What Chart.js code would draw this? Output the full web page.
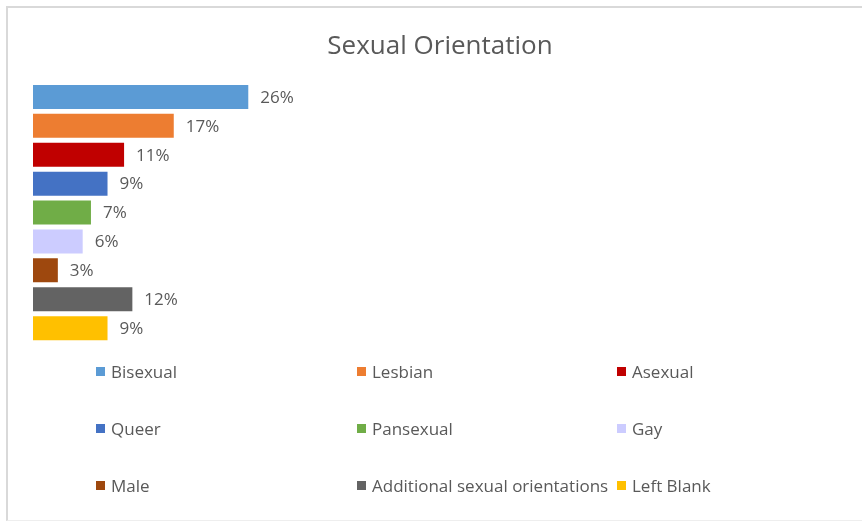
<!DOCTYPE html>
<html>
<head>
<meta charset="utf-8">
<script src="https://cdn.jsdelivr.net/npm/chart.js@4/dist/chart.umd.min.js"></script>
<style>
    html, body { margin: 0; padding: 0; background: #fff; }
    #wrap { position: relative; width: 862px; height: 523px; overflow: hidden; }
    #frame {
        position: absolute; left: 6px; top: 6px; width: 870px; height: 512px;
        border-left: 2px solid #d9d9d9; border-top: 2px solid #d9d9d9; border-bottom: 1px solid #eeeeee;
    }
    #chart { position: absolute; left: 0; top: 0; }
    #legend { position: absolute; left: 0; top: 0; width: 862px; height: 523px; pointer-events: none; }
    .item {
        position: absolute; display: flex; align-items: center;
        font-family: "Open Sans", sans-serif; font-size: 17px; color: #595959; white-space: nowrap;
    }
    .item span.box { width: 9px; height: 9px; margin-right: 6px; display: inline-block; }
</style>
</head>
<body>
<div id="wrap">
    <div id="frame"></div>
    <canvas id="chart" width="862" height="523"></canvas>
    <div id="legend"></div>
</div>
<script>
// Categorias e percentuais
const orientacoes = ['Bisexual', 'Lesbian', 'Asexual', 'Queer', 'Pansexual', 'Gay', 'Male', 'Additional sexual orientations', 'Left Blank'];
const percentuais = [26, 17, 11, 9, 7, 6, 3, 12, 9];

// Cores das barras
const cores = ['#5B9BD5', '#ED7D31', '#C00000', '#4472C4', '#70AD47', '#CCCCFF', '#9E480E', '#636363', '#FFC000'];

const textColor = '#595959';

// Rótulos de valor ao lado de cada barra + título
const rotulosPlugin = {
    id: 'rotulos',
    afterDatasetsDraw(chart) {
        const ctx = chart.ctx;
        ctx.save();
        ctx.fillStyle = textColor;
        ctx.font = '17px "Open Sans", sans-serif';
        ctx.textBaseline = 'middle';
        ctx.textAlign = 'left';
        chart.data.datasets.forEach((ds, i) => {
            const meta = chart.getDatasetMeta(i);
            meta.data.forEach((bar, j) => {
                ctx.fillText(ds.data[j] + '%', bar.x + 12, bar.y + 1);
            });
        });
        // Título
        ctx.font = '26px "Open Sans", sans-serif';
        ctx.textAlign = 'center';
        ctx.textBaseline = 'alphabetic';
        ctx.fillText('Sexual Orientation', 440, 54);
        ctx.restore();
    }
};

const ctx = document.getElementById('chart').getContext('2d');
const chart = new Chart(ctx, {
    type: 'bar',
    data: {
        labels: [''],
        datasets: orientacoes.map((nome, i) => ({
            label: nome,
            data: [percentuais[i]],
            backgroundColor: cores[i],
            borderWidth: 0
        }))
    },
    options: {
        indexAxis: 'y',
        responsive: false,
        animation: false,
        categoryPercentage: 1,
        barPercentage: 0.83,
        layout: {
            padding: { left: 33, top: 82.5, right: 580.6, bottom: 180.4 }
        },
        scales: {
            x: { display: false, min: 0, max: 30 },
            y: { display: false }
        },
        plugins: {
            legend: { display: false },
            title: { display: false },
            tooltip: { enabled: false }
        }
    },
    plugins: [rotulosPlugin]
});

// Legenda em três colunas
const legenda = document.getElementById('legend');
const colunas = [96, 357, 617];
const linhas = [371, 428, 485];
chart.data.datasets.forEach((ds, i) => {
    const item = document.createElement('div');
    item.className = 'item';
    item.style.left = colunas[i % 3] + 'px';
    item.style.top = (linhas[Math.floor(i / 3)] - 12) + 'px';
    item.style.height = '24px';
    const box = document.createElement('span');
    box.className = 'box';
    box.style.background = ds.backgroundColor;
    const txt = document.createElement('span');
    txt.textContent = ds.label;
    item.appendChild(box);
    item.appendChild(txt);
    legenda.appendChild(item);
});
</script>
</body>
</html>
